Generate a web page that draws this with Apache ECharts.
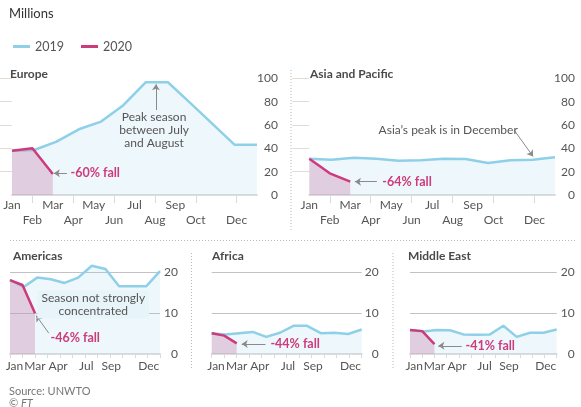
<!DOCTYPE html>
<html>
<head>
<meta charset="utf-8">
<script src="https://cdn.jsdelivr.net/npm/echarts@6/dist/echarts.min.js"></script>
<style>
  html, body { margin: 0; padding: 0; background: #fff; }
  #chart { width: 581px; height: 407px; }
</style>
</head>
<body>
<div id="chart"></div>
<script>
// data, millions of arrivals
const months = ['Jan', 'Feb', 'Mar', 'Apr', 'May', 'Jun', 'Jul', 'Aug', 'Sep', 'Oct', 'Nov', 'Dec']
const regions = ['Europe', 'Asia and Pacific', 'Americas', 'Africa', 'Middle East']

const europe2019 = [38, 38.6, 45.7, 56.3, 62.9, 77, 96.6, 96.6, 79, 61, 43, 43]
const europe2020 = [38, 40, 18]
const asia2019 = [31, 30.3, 32, 31.1, 29.4, 29.7, 31.1, 30.9, 27.4, 29.7, 30.3, 32.3]
const asia2020 = [31, 18.6, 11.4]
const americas2019 = [18.1, 16.4, 18.7, 18.3, 17.4, 18.7, 21.6, 20.8, 16.6, 16.6, 16.6, 20.3]
const americas2020 = [18.1, 16.9, 10]
const africa2019 = [5.1, 4.8, 5.1, 5.4, 4.2, 5.2, 6.9, 6.9, 5.1, 5.2, 4.9, 6.0]
const africa2020 = [5.1, 4.5, 2.6]
const middleEast2019 = [5.9, 5.5, 5.9, 5.8, 4.8, 4.7, 4.8, 6.9, 4.2, 5.2, 5.2, 6.0]
const middleEast2020 = [5.9, 5.6, 2.4]

const falls = ['-60% fall', '-64% fall', '-46% fall', '-44% fall', '-41% fall']
const topYTicks = [0, 20, 40, 60, 80, 100]
const bottomYTicks = [0, 10, 20]
const bottomMonthLabels = ['Jan', 'Mar', 'Apr', 'Jul', 'Sep', 'Dec']

// layout
const blue = '#8ed0e8'
const pink = '#cc3b7c'
const grey = '#555'
const bottomLabelPos = [0.35, 2, 3.85, 6.1, 8.1, 11.1]

const panels = [
  { name: regions[0], v19: europe2019, v20: europe2020, grid: { left: 12, top: 78.3, width: 245, height: 116.7 }, top: true, margin: 21, title: [10, 68],
    fall: [2.84, 18.6], fallArrow: [[2.69, 18.6], [2.05, 18.6]],
    note: { text: 'Peak season\nbetween July\nand August', at: [6.96, 55.7], pos: 'inside' }, noteArrow: [[7.05, 72.8], [7.05, 94.8]], curve: 0 },
  { name: regions[1], v19: asia2019, v20: asia2020, grid: { left: 309.3, top: 78.3, width: 245.7, height: 116.7 }, top: true, margin: 20, title: [310, 68],
    fall: [3.54, 11.4], fallArrow: [[3.3, 11.4], [2.23, 11.4]],
    note: { text: 'Asia\u2019s peak is in December', at: [3.36, 55.7], pos: 'right' }, noteArrow: [[10.0, 55.7], [10.93, 33]], curve: 0.4 },
  { name: regions[2], v19: americas2019, v20: americas2020, grid: { left: 10, top: 272.3, width: 150, height: 81.7 }, top: false, margin: 18, title: [13, 250],
    fall: [3.2, 4.0], fallArrow: [[3.1, 5.1], [2.1, 9.4]],
    note: { text: 'Season not strongly\nconcentrated', at: [6.66, 12.1], pos: 'inside', bg: true }, curve: 0 },
  { name: regions[3], v19: africa2019, v20: africa2020, grid: { left: 211.7, top: 272.3, width: 150, height: 81.7 }, top: false, margin: 17, title: [212, 250],
    fall: [4.66, 2.45], fallArrow: [[4.3, 2.45], [2.4, 2.45]] },
  { name: regions[4], v19: middleEast2019, v20: middleEast2020, grid: { left: 410, top: 272.3, width: 146.7, height: 81.7 }, top: false, margin: 18, title: [408, 250],
    fall: [4.5, 1.96], fallArrow: [[4.23, 2.0], [2.32, 2.0]] }
]

const grids = [], xAxes = [], yAxes = [], series = [], titles = []

titles.push({ text: 'Millions', left: 9, top: 7, padding: 0, textStyle: { fontSize: 13, fontWeight: 'normal', color: '#333' } })
titles.push({ text: 'Source: UNWTO', left: 9, top: 386, padding: 0, textStyle: { fontSize: 11, fontWeight: 'normal', color: '#777' } })
titles.push({ text: '\u00a9 {i|FT}', left: 9, top: 398, padding: 0, textStyle: { fontSize: 11, fontWeight: 'normal', color: '#777', rich: { i: { fontStyle: 'italic', fontSize: 11, color: '#777' } } } })

panels.forEach((p, i) => {
  grids.push(p.grid)
  titles.push({ text: p.name, left: p.title[0], top: p.title[1], padding: 0, textStyle: { fontSize: 12, fontWeight: 'bold', color: '#4a4a4a' } })

  // hidden category axis that spreads the 2019 months over the full width
  xAxes.push({ type: 'category', gridIndex: i, data: months, boundaryGap: false, show: false, position: 'top' })
  // month tick axis used for labels and the 2020 line
  xAxes.push({
    type: 'value', gridIndex: i, min: 0, max: 12, position: 'bottom',
    axisLine: { show: true, lineStyle: { color: '#dcdcdc', width: 2 } },
    axisTick: p.top
      ? { show: true, customValues: [1, 3, 5, 7, 9, 11], length: 8, lineStyle: { color: '#dadada' } }
      : { show: true, customValues: [0, 1, 2, 3, 4, 5, 6, 7, 8, 9, 10, 11, 12], length: 4, lineStyle: { color: '#dadada' } },
    axisLabel: p.top
      ? { customValues: months.map((m, k) => k), formatter: v => (Math.round(v) % 2 ? '\n' : '') + months[Math.round(v)],
          color: grey, fontSize: 12, lineHeight: 15, margin: 3, showMinLabel: true, showMaxLabel: true, hideOverlap: false }
      : { customValues: bottomLabelPos, formatter: v => bottomMonthLabels[bottomLabelPos.findIndex(q => Math.abs(q - v) < 0.01)],
          color: grey, fontSize: 12, margin: 6, showMinLabel: true, showMaxLabel: true, hideOverlap: false },
    splitLine: { show: false }
  })

  const yt = p.top ? topYTicks : bottomYTicks
  yAxes.push({
    type: 'value', gridIndex: i, position: 'right', min: 0, max: yt[yt.length - 1], interval: yt[1] - yt[0],
    axisLine: { show: false },
    axisTick: p.top
      ? { show: true, inside: true, length: 17, customValues: yt.slice(1), lineStyle: { color: '#e6dbd3' } }
      : { show: false },
    axisLabel: { align: 'right', margin: p.margin, color: grey, fontSize: 12 },
    splitLine: p.top ? { show: false } : { show: true, lineStyle: { color: '#c2c2c2', width: 1 } }
  })

  series.push({
    name: '2019', type: 'line', xAxisIndex: 2 * i, yAxisIndex: i, data: p.v19,
    symbol: 'none', clip: false, z: 2,
    lineStyle: { color: blue, width: 2.5 },
    itemStyle: { color: blue },
    areaStyle: { color: 'rgba(160, 210, 235, 0.25)' }
  })

  const marks = [{ coord: p.fall, name: falls[i], label: { position: 'right', distance: 0, color: pink, fontSize: 12.5, fontWeight: 'bold' } }]
  if (p.note) {
    marks.push({ coord: p.note.at, name: p.note.text, label: {
      position: p.note.pos, distance: 0, color: grey, fontSize: 12, lineHeight: 13, align: p.note.pos === 'inside' ? 'center' : 'left',
      backgroundColor: p.note.bg ? '#e7f4fa' : 'transparent', padding: p.note.bg ? [1, 4] : 0 } })
  }
  const arrows = [[{ coord: p.fallArrow[0] }, { coord: p.fallArrow[1] }]]
  if (p.noteArrow) arrows.push([{ coord: p.noteArrow[0], lineStyle: { curveness: p.curve } }, { coord: p.noteArrow[1] }])

  series.push({
    name: '2020', type: 'line', xAxisIndex: 2 * i + 1, yAxisIndex: i,
    data: p.v20.map((v, k) => [k, v]),
    symbol: 'none', clip: false, z: 3,
    lineStyle: { color: pink, width: 2.5 },
    itemStyle: { color: pink },
    areaStyle: { color: 'rgba(200, 140, 180, 0.55)' },
    markLine: {
      silent: true, symbol: ['none', 'arrow'], symbolSize: 6,
      lineStyle: { color: '#8a8a8a', width: 1, type: 'solid' },
      label: { show: false }, emphasis: { disabled: true },
      data: arrows
    },
    markPoint: {
      silent: true, symbol: 'rect', symbolSize: 1,
      itemStyle: { color: 'rgba(0,0,0,0)' },
      label: { show: true, formatter: '{b}' },
      data: marks
    }
  })
})

const dot = { stroke: '#b8b8b8', lineWidth: 1, lineDash: [1, 2] }
const graphic = [
  { type: 'line', shape: { x1: 291, y1: 70, x2: 291, y2: 230 }, style: dot, silent: true },
  { type: 'line', shape: { x1: 10, y1: 240.5, x2: 577, y2: 240.5 }, style: dot, silent: true },
  { type: 'line', shape: { x1: 191.5, y1: 253, x2: 191.5, y2: 368 }, style: dot, silent: true },
  { type: 'line', shape: { x1: 393, y1: 253, x2: 393, y2: 368 }, style: dot, silent: true }
]

const chart = echarts.init(document.getElementById('chart'))
chart.setOption({
  animation: false,
  textStyle: { fontFamily: 'Lato' },
  title: titles,
  legend: {
    left: 8, top: 35, selectedMode: false, icon: 'rect', itemWidth: 17, itemHeight: 3, itemGap: 17,
    data: [{ name: '2019', itemStyle: { color: blue } }, { name: '2020', itemStyle: { color: pink } }],
    textStyle: { color: grey, fontSize: 12.5 }
  },
  grid: grids,
  xAxis: xAxes,
  yAxis: yAxes,
  series: series,
  graphic: graphic
})
</script>
</body>
</html>
